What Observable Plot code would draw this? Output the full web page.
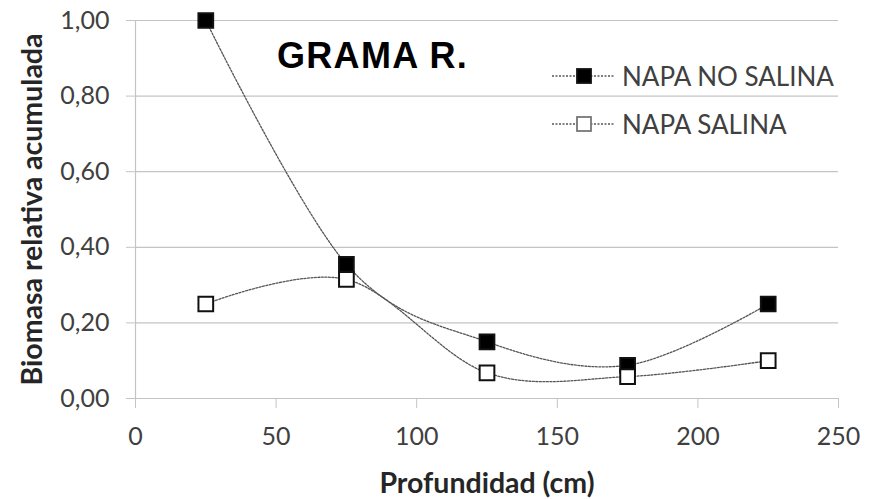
<!DOCTYPE html>
<html>
<head>
<meta charset="utf-8">
<script src="https://cdn.jsdelivr.net/npm/d3@7"></script>
<script src="https://cdn.jsdelivr.net/npm/@observablehq/plot@0.6"></script>
<style>
  html, body { margin: 0; padding: 0; background: #fff; }
  #wrap { position: relative; width: 869px; height: 499px; }
  .title { position: absolute; left: 277px; top: 35px; font-family: "Liberation Sans", Arial, sans-serif; font-weight: bold; font-size: 36px; letter-spacing: 1.3px; color: #000; white-space: nowrap; }
  .legend { position: absolute; left: 552px; font-family: Lato, sans-serif; font-size: 26px; color: #404040; display: flex; align-items: center; white-space: nowrap; }
  .legend svg { margin-right: 8px; }
</style>
</head>
<body>
<div id="wrap"></div>
<script>
// ---- data ----
const depths = [25, 75, 125, 175, 225];
const napaNoSalina = [1.00, 0.355, 0.15, 0.088, 0.25];
const napaSalina = [0.25, 0.315, 0.068, 0.058, 0.10];
const seriesNames = ["NAPA NO SALINA", "NAPA SALINA"];
const xTicks = [0, 50, 100, 150, 200, 250];
const yTicks = [0, 0.2, 0.4, 0.6, 0.8, 1.0];
const titleText = "GRAMA R.";
const xLabel = "Profundidad (cm)";
const yLabel = "Biomasa relativa acumulada";

const rows = [
  ...depths.map((d, i) => ({depth: d, value: napaNoSalina[i], series: seriesNames[0]})),
  ...depths.map((d, i) => ({depth: d, value: napaSalina[i], series: seriesNames[1]}))
];

const gridColor = "#c4c4c4";
const fmt = v => v.toFixed(2).replace(".", ",");

const chart = Plot.plot({
  width: 869,
  height: 499,
  marginLeft: 135,
  marginRight: 31,
  marginTop: 20,
  marginBottom: 101,
  style: {fontFamily: "Lato, sans-serif", background: "#fff"},
  x: {domain: [0, 250]},
  y: {domain: [0, 1]},
  marks: [
    Plot.gridY(yTicks, {stroke: gridColor, strokeOpacity: 1, strokeWidth: 1.2}),
    Plot.ruleX([0], {stroke: gridColor, strokeWidth: 1.2}),
    Plot.axisY(yTicks, {
      tickSize: 9, tickPadding: 17, stroke: gridColor, strokeOpacity: 1,
      tickFormat: fmt, fontSize: 25, fill: "#404040",
      label: yLabel, labelAnchor: "center", labelOffset: 114,
      labelArrow: "none"
    }),
    Plot.axisX(xTicks, {
      tickSize: 10, tickPadding: 19, stroke: gridColor, strokeOpacity: 1,
      fontSize: 25, fill: "#404040",
      label: xLabel, labelAnchor: "center", labelOffset: 94,
      labelArrow: "none"
    }),
    Plot.line(rows, {
      x: "depth", y: "value", z: "series", curve: "cardinal",
      stroke: "#555", strokeWidth: 1.3, strokeDasharray: "2,1.5"
    }),
    Plot.dot(rows, {
      x: "depth", y: "value", symbol: "square", r: 8.3,
      fill: d => d.series === seriesNames[0] ? "#000" : "#fff",
      stroke: "#111", strokeWidth: 2
    })
  ]
});

// bold axis titles
chart.querySelectorAll("g[aria-label='y-axis label'] text, g[aria-label='x-axis label'] text").forEach(t => {
  t.setAttribute("font-weight", "bold");
  t.setAttribute("fill", "#262626");
  t.setAttribute("font-size", "28.5");
});

const wrap = document.getElementById("wrap");
wrap.appendChild(chart);

const title = document.createElement("div");
title.className = "title";
title.textContent = titleText;
wrap.appendChild(title);

function legendItem(name, filled, top) {
  const div = document.createElement("div");
  div.className = "legend";
  div.style.top = top + "px";
  const ns = "http://www.w3.org/2000/svg";
  const svg = document.createElementNS(ns, "svg");
  svg.setAttribute("width", 62); svg.setAttribute("height", 20);
  const line = document.createElementNS(ns, "line");
  line.setAttribute("x1", 0); line.setAttribute("x2", 62);
  line.setAttribute("y1", 10); line.setAttribute("y2", 10);
  line.setAttribute("stroke", "#555"); line.setAttribute("stroke-dasharray", "2,1.5"); line.setAttribute("stroke-width", 1.3);
  const rect = document.createElementNS(ns, "rect");
  rect.setAttribute("x", 25); rect.setAttribute("y", 3); rect.setAttribute("width", 14); rect.setAttribute("height", 14);
  rect.setAttribute("fill", filled ? "#000" : "#fff");
  rect.setAttribute("stroke", filled ? "#111" : "#777"); rect.setAttribute("stroke-width", 1.8);
  svg.appendChild(line); svg.appendChild(rect);
  const span = document.createElement("span");
  span.textContent = name;
  div.appendChild(svg); div.appendChild(span);
  wrap.appendChild(div);
}
legendItem(seriesNames[0], true, 60);
legendItem(seriesNames[1], false, 108);
</script>
</body>
</html>
